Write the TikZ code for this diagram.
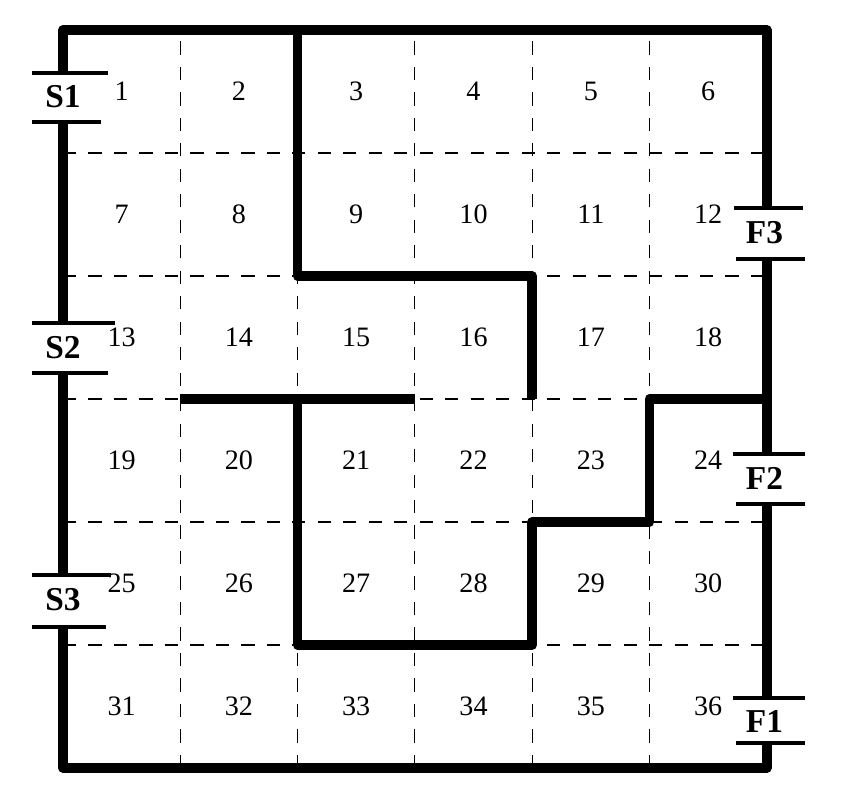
\documentclass[tikz,border=0pt]{standalone}
\usepackage{fontspec}
\setmainfont{Liberation Serif}
\begin{document}
\begin{tikzpicture}[x=2.346cm, y=2.46cm,
  every node/.style={font=\fontsize{16}{16}\selectfont},
  gridline/.style={dash pattern=on 7.5pt off 7pt, line width=0.6pt},
  wall/.style={line width=5.5pt, line join=round},
  door/.style={line width=2.3pt},
  gate/.style={font=\fontsize{19}{19}\selectfont\bfseries, inner sep=1pt}]
  \useasboundingbox (-0.537,-0.350) rectangle (6.795,6.244);
  % dashed cells
  \foreach \i in {1,...,5} {
    \draw[gridline] (\i,0) -- (\i,6);
    \draw[gridline] (0,\i) -- (6,\i);
  }
  % cell numbers
  \foreach \r in {0,...,5} {
    \foreach \c in {0,...,5} {
      \pgfmathtruncatemacro\n{6*\r+\c+1}
      \node (cell\n) at (\c+0.5,5.5-\r) {\n};
    }
  }
  % outer walls with gaps
  \draw[wall] (0,5.65) -- (0,6) -- (6,6) -- (6,4.55);
  \draw[wall] (0,5.25) -- (0,3.62);
  \draw[wall] (0,3.21) -- (0,1.57);
  \draw[wall] (0,1.15) -- (0,0) -- (6,0) -- (6,0.20);
  \draw[wall] (6,0.57) -- (6,2.15);
  \draw[wall] (6,2.55) -- (6,4.14);
  % inner walls
  \draw[wall] (2,6) -- (2,4) -- (4,4) -- (4,3);
  \draw[wall] (1,3) -- (3,3);
  \draw[wall] (2,3) -- (2,1) -- (4,1) -- (4,2) -- (5,2) -- (5,3) -- (6,3);
  % start gates
  \draw[door] (-0.26,5.65) -- (0.38,5.65); \draw[door] (-0.26,5.25) -- (0.32,5.25);
  \draw[door] (-0.26,3.62) -- (0.44,3.62); \draw[door] (-0.26,3.21) -- (0.38,3.21);
  \draw[door] (-0.26,1.57) -- (0.41,1.57); \draw[door] (-0.26,1.15) -- (0.37,1.15);
  \node[gate] (s1) at (0,5.46) {S1};
  \node[gate] (s2) at (0,3.42) {S2};
  \node[gate] (s3) at (0,1.37) {S3};
  % finish gates
  \draw[door] (5.72,4.55) -- (6.31,4.55); \draw[door] (5.74,4.14) -- (6.33,4.14);
  \draw[door] (5.71,2.55) -- (6.33,2.55); \draw[door] (5.74,2.15) -- (6.33,2.15);
  \draw[door] (5.71,0.57) -- (6.33,0.57); \draw[door] (5.74,0.20) -- (6.33,0.20);
  \node[gate] (f3) at (5.98,4.35) {F3};
  \node[gate] (f2) at (5.98,2.35) {F2};
  \node[gate] (f1) at (5.98,0.38) {F1};
\end{tikzpicture}
\end{document}
